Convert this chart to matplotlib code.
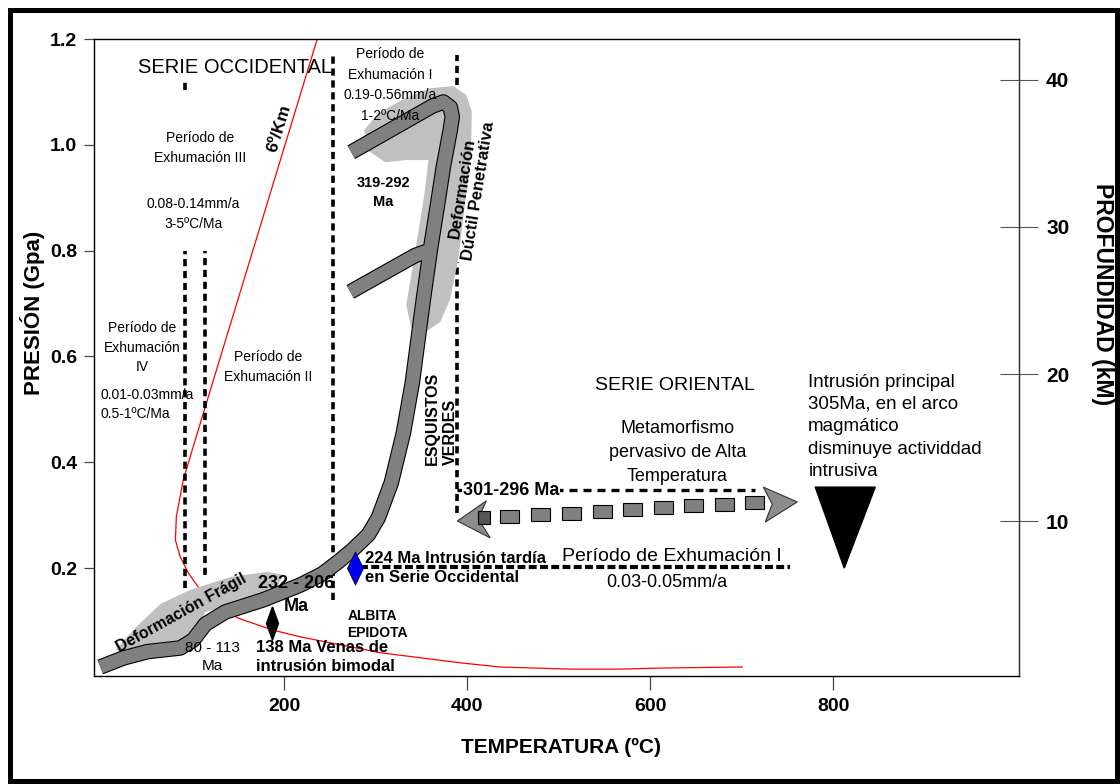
import numpy as np
import matplotlib
matplotlib.use('Agg')
import matplotlib.pyplot as plt
from matplotlib.patches import Polygon, Rectangle

plt.rcParams['font.family'] = ['Liberation Sans', 'DejaVu Sans']

# ---- data (T in ºC, P in GPa) ----
geotherm_T = [236, 112.6, 89.6, 82, 81, 86.3, 95, 106, 124.6, 148.6, 187, 217.5,
              305, 392, 436, 512.6, 567, 611, 700.5]
geotherm_P = [1.2, 0.499, 0.367, 0.297, 0.253, 0.221, 0.191, 0.164, 0.14, 0.106, 0.083,
              0.070, 0.040, 0.021, 0.013, 0.009, 0.009, 0.011, 0.013]

path_T = [-1.1, 24, 50.3, 86.3, 100.5, 113.7, 135.5, 177, 217.5, 241.5, 259, 274.3,
          291.8, 302.7, 316.9, 330.1, 339.9, 351.9, 359.6, 368.3, 373.8, 381.4,
          383.6, 381.4, 373.8, 361.7, 273.2]
path_P = [0.013, 0.030, 0.042, 0.049, 0.064, 0.094, 0.117, 0.140, 0.168, 0.189, 0.212,
          0.234, 0.263, 0.295, 0.361, 0.455, 0.550, 0.707, 0.801, 0.896, 0.958, 1.028,
          1.053, 1.071, 1.081, 1.073, 0.986]

branch_T = [359.6, 343.2, 272.1]
branch_P = [0.801, 0.791, 0.722]

fragil_T = [15.3, 37.2, 64.5, 97.3, 141, 181.4, 198.9, 190.2, 141, 113.7, 102.7, 80.9, 42.6]
fragil_P = [0.045, 0.087, 0.132, 0.159, 0.183, 0.193, 0.187, 0.159, 0.130, 0.117, 0.074,
            0.049, 0.036]

ductil_T = [384.7, 399, 405, 404, 398, 390, 381, 370.5, 354.1, 338.8, 333.3,
            343.2, 353, 357.4, 332.2, 310.4, 290.7, 287.4, 302.7, 332.2, 359.6]
ductil_P = [1.111, 1.094, 1.062, 0.990, 0.896, 0.782, 0.707, 0.665, 0.646, 0.654, 0.697,
            0.801, 0.905, 0.971, 0.971, 0.967, 0.990, 1.028, 1.060, 1.088, 1.107]

# vertical dashed segments
vdash_T = [91.8, 91.8, 113.7, 253.6, 389, 389]
vdash_lo = [1.104, 0.163, 0.187, 0.14, 1.113, 0.304]
vdash_hi = [1.119, 0.8, 0.8, 1.175, 1.170, 0.779]

# horizontal dashed lines
hdash_P = [0.348, 0.202]
hdash_T0 = [389, 283]
hdash_T1 = [714.7, 753]

# dashed arrow squares
sq_T = [445.9, 479.8, 513.7, 547.5, 580.3, 614.2, 647, 680.9, 713.7]
sq_P = [0.2967, 0.3005, 0.3033, 0.3071, 0.3099, 0.3137, 0.3175, 0.3203, 0.3231]
arrowL_T = [389.1, 420.8, 412, 425.1]
arrowL_P = [0.289, 0.327, 0.293, 0.257]
arrowR_T = [723.5, 760.7, 725.7, 733.3]
arrowR_P = [0.353, 0.325, 0.287, 0.321]

tri_T = [780.3, 845.9, 812]
tri_P = [0.353, 0.353, 0.200]

blue_T, blue_P = 277.6, 0.200
black_T, black_P = 186.9, 0.096

depth_ticks = [10, 20, 30, 40]
temp_ticks = [200, 400, 600, 800]
pres_ticks = [0.2, 0.4, 0.6, 0.8, 1.0, 1.2]

fig = plt.figure(figsize=(11.2, 7.84), dpi=100)
ax = fig.add_axes([94/1120, 1-676/784, 925/1120, 637/784])
ax.set_xlim(-8, 1003)
ax.set_ylim(-0.004, 1.2)

# geotherm
ax.plot(geotherm_T, geotherm_P, color='red', lw=0.9, zorder=2)

# dashed lines
for t, lo, hi in zip(vdash_T, vdash_lo, vdash_hi):
    ax.plot([t, t], [lo, hi], color='black', lw=2.6, dashes=(2.0, 1.3), zorder=3)
ax.plot([hdash_T0[0], hdash_T1[0]], [hdash_P[0]] * 2, color='black', lw=2.4,
        dashes=(2.4, 1.8), zorder=3)
ax.plot([hdash_T0[1], hdash_T1[1]], [hdash_P[1]] * 2, color='black', lw=3.0,
        dashes=(1.9, 0.8), zorder=3)

# shaded deformation zones
ax.add_patch(Polygon(np.column_stack([fragil_T, fragil_P]), closed=True,
                     facecolor='#c0c0c0', edgecolor='none', zorder=4))
ax.add_patch(Polygon(np.column_stack([ductil_T, ductil_P]), closed=True,
                     facecolor='#c0c0c0', edgecolor='none', zorder=4))

# P-T path band
for tt, pp in [(path_T, path_P), (branch_T, branch_P)]:
    ax.plot(tt, pp, color='black', lw=11.2, solid_capstyle='butt',
            solid_joinstyle='round', zorder=5)
for tt, pp in [(path_T, path_P), (branch_T, branch_P)]:
    ax.plot(tt, pp, color='#808080', lw=9.6, solid_capstyle='butt',
            solid_joinstyle='round', zorder=5)

# dashed arrow
for t, p in zip(sq_T, sq_P):
    ax.add_patch(Rectangle((t - 10.4, p - 0.0123), 20.8, 0.0246, facecolor='#808080',
                           edgecolor='black', lw=0.8, zorder=5))
ax.add_patch(Polygon(np.column_stack([arrowL_T, arrowL_P]), closed=True,
                     facecolor='#8c8c8c', edgecolor='#333333', lw=0.8, zorder=6))
ax.add_patch(Rectangle((412, 0.283), 13, 0.024, facecolor='#555555',
                       edgecolor='black', lw=0.8, zorder=6))
ax.add_patch(Polygon(np.column_stack([arrowR_T, arrowR_P]), closed=True,
                     facecolor='#8c8c8c', edgecolor='#333333', lw=0.8, zorder=6))

# intrusion triangle and diamonds
ax.add_patch(Polygon(np.column_stack([tri_T, tri_P]), closed=True,
                     facecolor='black', edgecolor='black', zorder=6))
ax.plot([blue_T], [blue_P], marker=[(0, 1), (0.485, 0), (0, -1), (-0.485, 0), (0, 1)],
        markersize=24, color='#0000ee', mec='black', mew=0.5, zorder=7)
ax.plot([black_T], [black_P], marker=[(0, 1), (0.36, 0), (0, -1), (-0.36, 0), (0, 1)],
        markersize=24, color='black', zorder=7)

# ---- annotations ----
kw = dict(ha='center', va='center', zorder=8)
ax.text(146.4, 1.147, 'SERIE OCCIDENTAL', fontsize=14.5, **kw)
ax.text(108.2, 0.994, 'Período de\nExhumación III', fontsize=10, linespacing=1.53, **kw)
ax.text(100.5, 0.869, '0.08-0.14mm/a\n3-5ºC/Ma', fontsize=10, linespacing=1.6, **kw)
ax.text(194.5, 1.032, '6º/Km', fontsize=12.5, fontweight='bold', rotation=73,
        rotation_mode='anchor', **kw)
ax.text(315.8, 1.113, 'Período de\nExhumación I\n0.19-0.56mm/a\n1-2ºC/Ma', fontsize=10,
        linespacing=1.6, **kw)
ax.text(308.2, 0.909, '319-292\nMa', fontsize=10.5, fontweight='bold', linespacing=1.45,
        **kw)
ax.text(403.3, 0.915, 'Deformación\nDúctil Penetrativa', fontsize=12, fontweight='bold',
        rotation=81, rotation_mode='anchor', linespacing=1.15, **kw)
ax.text(44.8, 0.616, 'Período de\nExhumación\nIV', fontsize=10, linespacing=1.5, **kw)
ax.text(-1.1, 0.510, '0.01-0.03mm/a\n0.5-1ºC/Ma', fontsize=10, ha='left', va='center',
        zorder=8, linespacing=1.45)
ax.text(182.5, 0.580, 'Período de\nExhumación II', fontsize=10, linespacing=1.53, **kw)
ax.text(371.6, 0.395, 'ESQUISTOS\nVERDES', fontsize=11.5, fontweight='bold', rotation=90,
        ha='center', va='bottom', multialignment='left', zorder=8, linespacing=1.2)
ax.text(627.3, 0.546, 'SERIE ORIENTAL', fontsize=14, **kw)
ax.text(629.5, 0.418, 'Metamorfismo\npervasivo de Alta\nTemperatura', fontsize=13,
        linespacing=1.53, **kw)
ax.text(448.1, 0.346, '301-296 Ma', fontsize=13, fontweight='bold', ha='center',
        va='center', zorder=8, bbox=dict(facecolor='white', edgecolor='none', pad=0.5))
ax.text(772.7, 0.467, 'Intrusión principal\n305Ma, en el arco\nmagmático\n'
        'disminuye actividdad\nintrusiva', fontsize=13.5, ha='left', va='center',
        zorder=8, linespacing=1.41)
ax.text(624, 0.221, 'Período de Exhumación I', fontsize=14, **kw)
ax.text(618.6, 0.172, '0.03-0.05mm/a', fontsize=13, **kw)
ax.text(288.5, 0.201, '224 Ma Intrusión tardía\nen Serie Occidental', fontsize=12,
        fontweight='bold', ha='left', va='center', zorder=8, linespacing=1.34)
ax.text(213.1, 0.149, '232 - 206\nMa', fontsize=13, fontweight='bold', linespacing=1.48,
        **kw)
ax.text(87.4, 0.115, 'Deformación Frágil', fontsize=11.5, fontweight='bold', rotation=29,
        rotation_mode='anchor', **kw)
ax.text(121.3, 0.032, '80 - 113\nMa', fontsize=11, linespacing=1.39, **kw)
ax.text(169.4, 0.032, '138 Ma Venas de\nintrusión bimodal', fontsize=12,
        fontweight='bold', ha='left', va='center', zorder=8, linespacing=1.28)
ax.text(268.9, 0.093, 'ALBITA\nEPIDOTA', fontsize=10, fontweight='bold', ha='left',
        va='center', zorder=8, linespacing=1.22)

# ---- axes styling ----
ax.set_xticks(temp_ticks)
ax.set_yticks(pres_ticks)
ax.set_yticklabels(['%.1f' % v for v in pres_ticks])
ax.tick_params(axis='x', direction='out', length=10, width=0.9, pad=6, labelsize=14,
               color='#444444')
ax.tick_params(axis='y', direction='out', length=7, width=0.9, pad=5, labelsize=14,
               color='#444444')
for lab in ax.get_xticklabels() + ax.get_yticklabels():
    lab.set_fontweight('bold')
for s in ax.spines.values():
    s.set_color('#333333')
    s.set_linewidth(1.0)

ax2 = ax.twinx()
ax2.set_ylim(-0.49, 42.75)
ax2.set_yticks(depth_ticks)
ax2.tick_params(axis='y', direction='inout', length=27, width=0.8, pad=6, labelsize=15,
                color='#555555')
for lab in ax2.get_yticklabels():
    lab.set_fontweight('bold')
ax2.spines['right'].set_color('#333333')

fig.text(0.0286, 0.601, 'PRESIÓN (Gpa)', rotation=90, ha='center', va='center',
         fontsize=16, fontweight='bold')
fig.text(0.984, 0.625, 'PROFUNDIDAD (kM)', rotation=-90, ha='center', va='center',
         fontsize=16.5, fontweight='bold')
fig.text(0.501, 0.046, 'TEMPERATURA (ºC)', ha='center', va='center',
         fontsize=15, fontweight='bold')

fig.patches.append(Rectangle((0.0085, 0.0038), 0.9888, 0.984, transform=fig.transFigure,
                             fill=False, edgecolor='black', lw=3.6))

fig.savefig('out.png', dpi=100)
